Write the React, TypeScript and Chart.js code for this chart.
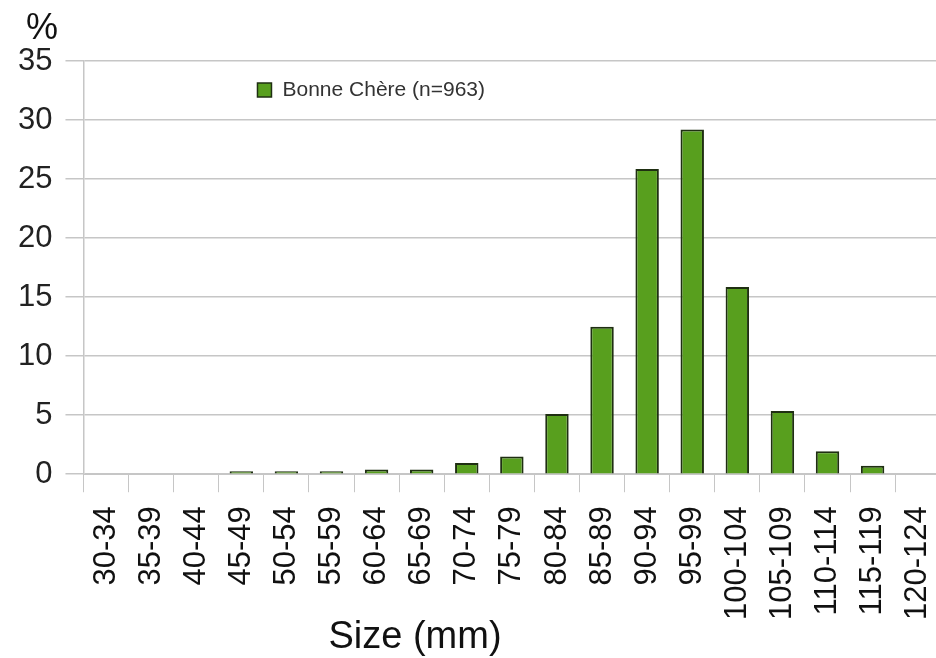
import React, { useEffect, useRef } from "react";
import { Chart, registerables } from "chart.js";

Chart.register(...registerables);

const categories = [
  "30-34", "35-39", "40-44", "45-49", "50-54", "55-59", "60-64", "65-69",
  "70-74", "75-79", "80-84", "85-89", "90-94", "95-99", "100-104",
  "105-109", "110-114", "115-119", "120-124",
];
const seriesName = "Bonne Chère (n=963)";
const values = [
  0, 0, 0, 0.25, 0.25, 0.25, 0.4, 0.4, 0.95, 1.5, 5.1, 12.5, 25.85, 29.2,
  15.85, 5.35, 1.95, 0.72, 0,
];
const yTicks = [0, 5, 10, 15, 20, 25, 30, 35];
const xTitle = "Size (mm)";
const yTitle = "%";

const BAR_FILL = "#589f1e";
const BAR_BORDER = "#1f2f12";
const GRID = "#c6c6c6";
const FONT = "'Liberation Sans', Arial, sans-serif";

const overlayPlugin = {
  id: "overlay",
  afterDraw(chart: any) {
    const ctx = chart.ctx;
    const area = chart.chartArea;
    ctx.save();
    // legend inside plot
    const lx = area.left + 174;
    const ly = area.top + 22;
    ctx.fillStyle = BAR_FILL;
    ctx.strokeStyle = BAR_BORDER;
    ctx.lineWidth = 1.5;
    ctx.fillRect(lx, ly, 14, 14);
    ctx.strokeRect(lx, ly, 14, 14);
    ctx.fillStyle = "#333";
    ctx.font = `21px ${FONT}`;
    ctx.textBaseline = "middle";
    ctx.textAlign = "left";
    ctx.fillText(seriesName, lx + 25, ly + 7.5);
    // y title
    ctx.fillStyle = "#111";
    ctx.font = `36px ${FONT}`;
    ctx.textBaseline = "alphabetic";
    ctx.fillText(yTitle, 26, 39);
    // x title
    ctx.font = `38px ${FONT}`;
    ctx.textAlign = "center";
    ctx.fillText(xTitle, 415, 648);
    ctx.restore();
  },
};

export default function App() {
  const ref = useRef<HTMLCanvasElement>(null);
  useEffect(() => {
    if (!ref.current) return;
    const chart = new Chart(ref.current, {
      type: "bar",
      data: {
        labels: categories,
        datasets: [
          {
            label: seriesName,
            data: values,
            backgroundColor: BAR_FILL,
            borderColor: BAR_BORDER,
            borderWidth: 2,
            barPercentage: 1,
            categoryPercentage: 0.52,
          },
        ],
      },
      options: {
        animation: false,
        responsive: false,
        maintainAspectRatio: false,
        layout: { padding: { left: 5, top: 61, right: 4, bottom: 24 } },
        plugins: {
          legend: { display: false },
          tooltip: { enabled: false },
          title: { display: false },
        },
        scales: {
          x: {
            grid: {
              display: true,
              drawOnChartArea: false,
              drawTicks: true,
              tickLength: 18,
              color: GRID,
              offset: true,
            },
            border: { display: true, color: GRID },
            ticks: {
              autoSkip: false,
              maxRotation: 90,
              minRotation: 90,
              padding: 14,
              color: "#111",
              font: { family: FONT, size: 31 },
            },
          },
          y: {
            min: 0,
            max: 35,
            afterBuildTicks: (axis: any) => {
              axis.ticks = yTicks.map((v) => ({ value: v }));
            },
            grid: { color: GRID, tickLength: 18, lineWidth: 1.5 },
            border: { display: true, color: GRID, width: 1.5 },
            ticks: {
              padding: 13,
              color: "#222",
              font: { family: FONT, size: 31 },
            },
          },
        },
      },
      plugins: [overlayPlugin],
    });
    return () => chart.destroy();
  }, []);
  return (
    <div
      style={{
        position: "fixed",
        left: 0,
        top: 0,
        width: 936,
        height: 658,
        overflow: "hidden",
        background: "#fff",
      }}
    >
      <canvas ref={ref} width={969} height={658} style={{ width: 969, height: 658 }} />
    </div>
  );
}
